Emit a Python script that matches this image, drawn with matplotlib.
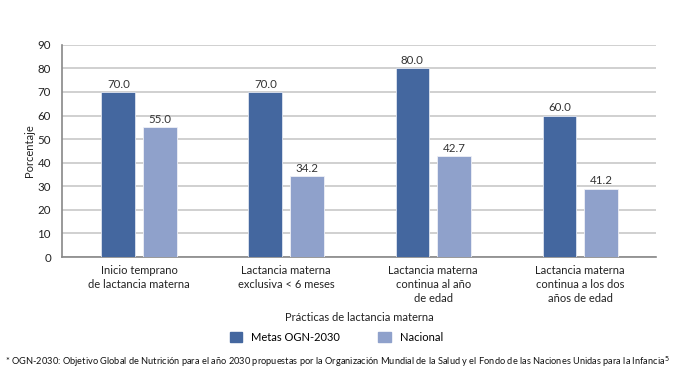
import matplotlib.pyplot as plt
import numpy as np
from matplotlib.patches import Patch

# ===========datos================
categorias = ['Inicio temprano\nde lactancia materna',
              'Lactancia materna\nexclusiva < 6 meses',
              'Lactancia materna\ncontinua al año\nde edad',
              'Lactancia materna\ncontinua a los dos\naños de edad']
metas = [70.0, 70.0, 80.0, 60.0]
nacional = [55.0, 34.2, 42.7, 29.0]          # altura dibujada de la barra
nacional_txt = ['55.0', '34.2', '42.7', '41.2']  # etiqueta impresa
series = ['Metas OGN-2030', 'Nacional']
yticks = list(range(0, 91, 10))

plt.rcParams['font.family'] = ['Lato', 'DejaVu Sans']
c_metas = '#44679f'
c_nac = '#8fa1cb'

fig = plt.figure(figsize=(6.86, 3.9), dpi=100)
ax = fig.add_axes([0.0904, 0.341, 0.866, 0.544])

x = np.arange(len(categorias))
w = 0.23
b1 = ax.bar(x - 0.141, metas, w, color=c_metas, edgecolor='#dfe5f0', linewidth=0.6, zorder=3)
b2 = ax.bar(x + 0.141, nacional, w, color=c_nac, edgecolor='#eef0f7', linewidth=0.6, zorder=3)

for r, v in zip(b1, metas):
    ax.text(r.get_x() + r.get_width() / 2, v + 1, f'{v:.1f}', ha='center', va='bottom',
            fontsize=8.3, color='#333333')
for r, t in zip(b2, nacional_txt):
    ax.text(r.get_x() + r.get_width() / 2, r.get_height() + 1, t, ha='center', va='bottom',
            fontsize=8.3, color='#333333')

ax.set_xlim(-0.524, 3.516)
ax.set_ylim(0, 90)
ax.set_yticks(yticks)
ax.yaxis.grid(True, color='#c8c8c8', linewidth=1.2, zorder=0)
ax.set_axisbelow(True)
for s in ['top', 'right']:
    ax.spines[s].set_visible(False)
for s in ['left', 'bottom']:
    ax.spines[s].set_color('#888888')
    ax.spines[s].set_linewidth(1.2)
ax.tick_params(axis='y', length=0, labelsize=8.3, pad=8, colors='#222222')
ax.tick_params(axis='x', length=0, labelsize=8, pad=6, colors='#222222')
ax.set_xticks(x)
ax.set_xticklabels(categorias, linespacing=1.3)
ax.set_ylabel('Porcentaje', fontsize=8, labelpad=2, color='#222222')
ax.set_xlabel('Prácticas de lactancia materna', fontsize=8, labelpad=6, color='#222222')

handles = [Patch(color=c_metas), Patch(color=c_nac)]
fig.legend(handles, series, loc='center', bbox_to_anchor=(0.49, 0.135), ncol=2, frameon=False,
           fontsize=8, handlelength=1.1, handleheight=1.1, columnspacing=3.5, handletextpad=0.8)

fig.text(0.007, 0.072, '* OGN-2030: Objetivo Global de Nutrición para el año 2030 propuestas por la '
         'Organización Mundial de la Salud y el Fondo de las Naciones Unidas para la Infancia$^5$',
         fontsize=6.7, color='#111111', va='center')

fig.savefig('out.png', dpi=100, facecolor='white')
